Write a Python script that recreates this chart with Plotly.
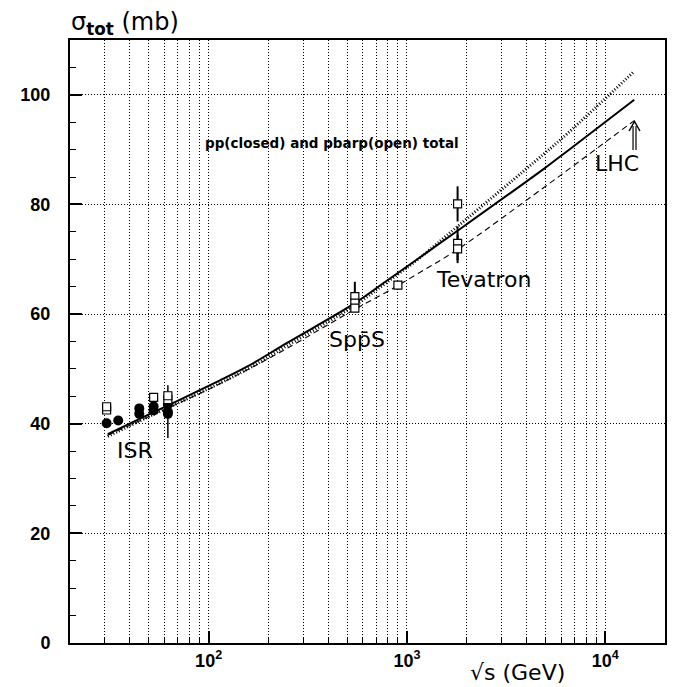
import plotly.graph_objects as go

# ---------------- data ----------------
sqrt_s_fit = [31, 50, 100, 156, 250, 541, 778, 1137, 1800, 4860, 6470, 14000]
sigma_solid = [38.1, 41.7, 46.9, 50.4, 54.8, 61.9, 65.9, 70.1, 75.2, 86.4, 89.8, 99.1]
sigma_dotted = [37.7, 41.3, 46.4, 49.9, 54.3, 61.5, 65.6, 70.0, 76.0, 89.1, 93.0, 104.3]
sigma_dashed = [37.9, 41.3, 46.3, 49.8, 53.8, 60.8, 63.9, 67.4, 71.8, 83.0, 86.3, 95.3]

pp_sqrt_s = [30.6, 35.0, 44.7, 44.7, 52.8, 52.8, 62.3, 62.3, 62.3]
pp_sigma = [40.1, 40.6, 41.8, 42.8, 42.4, 43.2, 41.8, 42.2, 43.5]
pp_err = [0, 0, 0, 0.6, 0, 0, 0, 4.8, 0]

pbarp_sqrt_s = [30.6, 30.6, 52.8, 62.3, 62.3, 546, 546, 546, 900, 1800, 1800, 1800]
pbarp_sigma = [42.5, 43.1, 44.8, 44.4, 45.1, 63.2, 62.0, 61.1, 65.3, 80.1, 72.9, 71.9]
pbarp_err = [0, 0, 0, 0, 0, 2.7, 0, 0, 0, 3.2, 3.1, 2.6]

x_major_ticks = [100, 1000, 10000]
x_major_text = ["10<sup>2</sup>", "10<sup>3</sup>", "10<sup>4</sup>"]
x_minor_ticks = [20, 30, 40, 50, 60, 70, 80, 90,
                 200, 300, 400, 500, 600, 700, 800, 900,
                 2000, 3000, 4000, 5000, 6000, 7000, 8000, 9000, 20000]
y_ticks = [0, 20, 40, 60, 80, 100]
y_tick_text = ["0", "20", "40", "60", "80", "100"]

labels = ["ISR", "Spp\u0304S", "Tevatron", "LHC"]
title_text = "pp(closed) and pbarp(open) total"

# ---------------- figure ----------------
fig = go.Figure()

fig.add_trace(go.Scatter(x=sqrt_s_fit, y=sigma_dashed, mode="lines",
                         line=dict(color="black", width=1.1, dash="6px,4px", shape="spline"),
                         showlegend=False, hoverinfo="skip"))
fig.add_trace(go.Scatter(x=sqrt_s_fit, y=sigma_dotted, mode="lines",
                         line=dict(color="black", width=3, dash="1px,2px", shape="spline"),
                         showlegend=False, hoverinfo="skip"))
fig.add_trace(go.Scatter(x=sqrt_s_fit, y=sigma_solid, mode="lines",
                         line=dict(color="black", width=2, shape="spline"),
                         showlegend=False, hoverinfo="skip"))

fig.add_trace(go.Scatter(x=pp_sqrt_s, y=pp_sigma, mode="markers",
                         marker=dict(symbol="circle", size=10, color="black"),
                         error_y=dict(type="data", array=pp_err, color="black",
                                      thickness=1.5, width=0),
                         showlegend=False))
fig.add_trace(go.Scatter(x=pbarp_sqrt_s, y=pbarp_sigma, mode="markers",
                         marker=dict(symbol="square", size=8, color="white",
                                     line=dict(color="black", width=1.2)),
                         error_y=dict(type="data", array=pbarp_err, color="black",
                                      thickness=2, width=0),
                         showlegend=False))

# page has an 8 px body margin; target plot box on page: x 60..665, y 40..643
OFF = 8
W, H = 680 - OFF, 687 - OFF
L, T = 60 - OFF, 40 - OFF
R = W - (665 - OFF)
B = H - (643 - OFF)
pw, ph = W - L - R, H - T - B


def fx(px):
    """page pixel x -> paper coordinate"""
    return (px - OFF - L) / pw


def fy(py):
    """page pixel y -> paper coordinate"""
    return (H - B - (py - OFF)) / ph


label_font = dict(family="DejaVu Sans", size=22, color="black")
annots = [
    dict(text=labels[0], x=fx(126), y=fy(450)),
    dict(text=labels[1], x=fx(352), y=fy(339)),
    dict(text=labels[2], x=fx(480), y=fy(279)),
    dict(text=labels[3], x=fx(616), y=fy(164)),
]
for a in annots:
    fig.add_annotation(xref="paper", yref="paper", showarrow=False,
                       xanchor="center", yanchor="middle", font=label_font, **a)

fig.add_annotation(xref="paper", yref="paper", x=fx(326), y=fy(143), text=title_text,
                   showarrow=False, xanchor="center", yanchor="middle",
                   font=dict(family="DejaVu Sans", size=13.5, color="black", weight="bold"))

fig.add_annotation(xref="paper", yref="paper", x=fx(59), y=fy(23),
                   text="\u03c3<sub><b>tot</b></sub> (mb)",
                   showarrow=False, xanchor="left", yanchor="middle",
                   font=dict(family="DejaVu Sans", size=24, color="black"))
fig.add_annotation(xref="paper", yref="paper", x=fx(515), y=fy(672),
                   text="\u221as (GeV)", showarrow=False,
                   xanchor="center", yanchor="middle",
                   font=dict(family="DejaVu Sans", size=22, color="black"))

# LHC double-shaft arrow
for xs in (632.5, 635.5):
    fig.add_shape(type="line", xref="paper", yref="paper",
                  x0=fx(xs), x1=fx(xs), y0=fy(150), y1=fy(126),
                  line=dict(color="black", width=1.2))
fig.add_shape(type="path", xref="paper", yref="paper",
              path=f"M {fx(628.5)},{fy(131)} L {fx(634)},{fy(121.5)} L {fx(639.5)},{fy(131)}",
              line=dict(color="black", width=1.5))

grid_dash = "1px,2px"
grid_col = "black"
fig.update_xaxes(type="log", range=[1.30103, 4.30103],
                 tickmode="array", tickvals=x_major_ticks, ticktext=x_major_text,
                 ticks="inside", ticklen=12, tickwidth=1.5, tickcolor="black",
                 showgrid=True, gridcolor=grid_col, gridwidth=1, griddash=grid_dash,
                 minor=dict(tickmode="array", tickvals=x_minor_ticks, ticks="inside",
                            ticklen=6, tickwidth=1, tickcolor="black", showgrid=True,
                            gridcolor=grid_col, gridwidth=1, griddash=grid_dash),
                 showline=True, linecolor="black", linewidth=2, mirror=True,
                 zeroline=False, ticklabelstandoff=0,
                 tickfont=dict(family="Liberation Sans", size=18, color="black", weight="bold"))
fig.update_yaxes(range=[0, 110], tickmode="array", tickvals=y_ticks, ticktext=y_tick_text,
                 ticks="inside", ticklen=12, tickwidth=1.5, tickcolor="black",
                 showgrid=True, gridcolor=grid_col, gridwidth=1, griddash=grid_dash,
                 minor=dict(dtick=5, ticks="inside", ticklen=6, tickwidth=1,
                            tickcolor="black", showgrid=False),
                 showline=True, linecolor="black", linewidth=2, mirror=True,
                 zeroline=False, ticklabelstandoff=14,
                 tickfont=dict(family="Liberation Sans", size=18, color="black", weight="bold"))

fig.update_layout(width=W, height=H, margin=dict(l=L, r=R, t=T, b=B),
                  plot_bgcolor="white", paper_bgcolor="white", showlegend=False)

fig.write_html("out.html")
